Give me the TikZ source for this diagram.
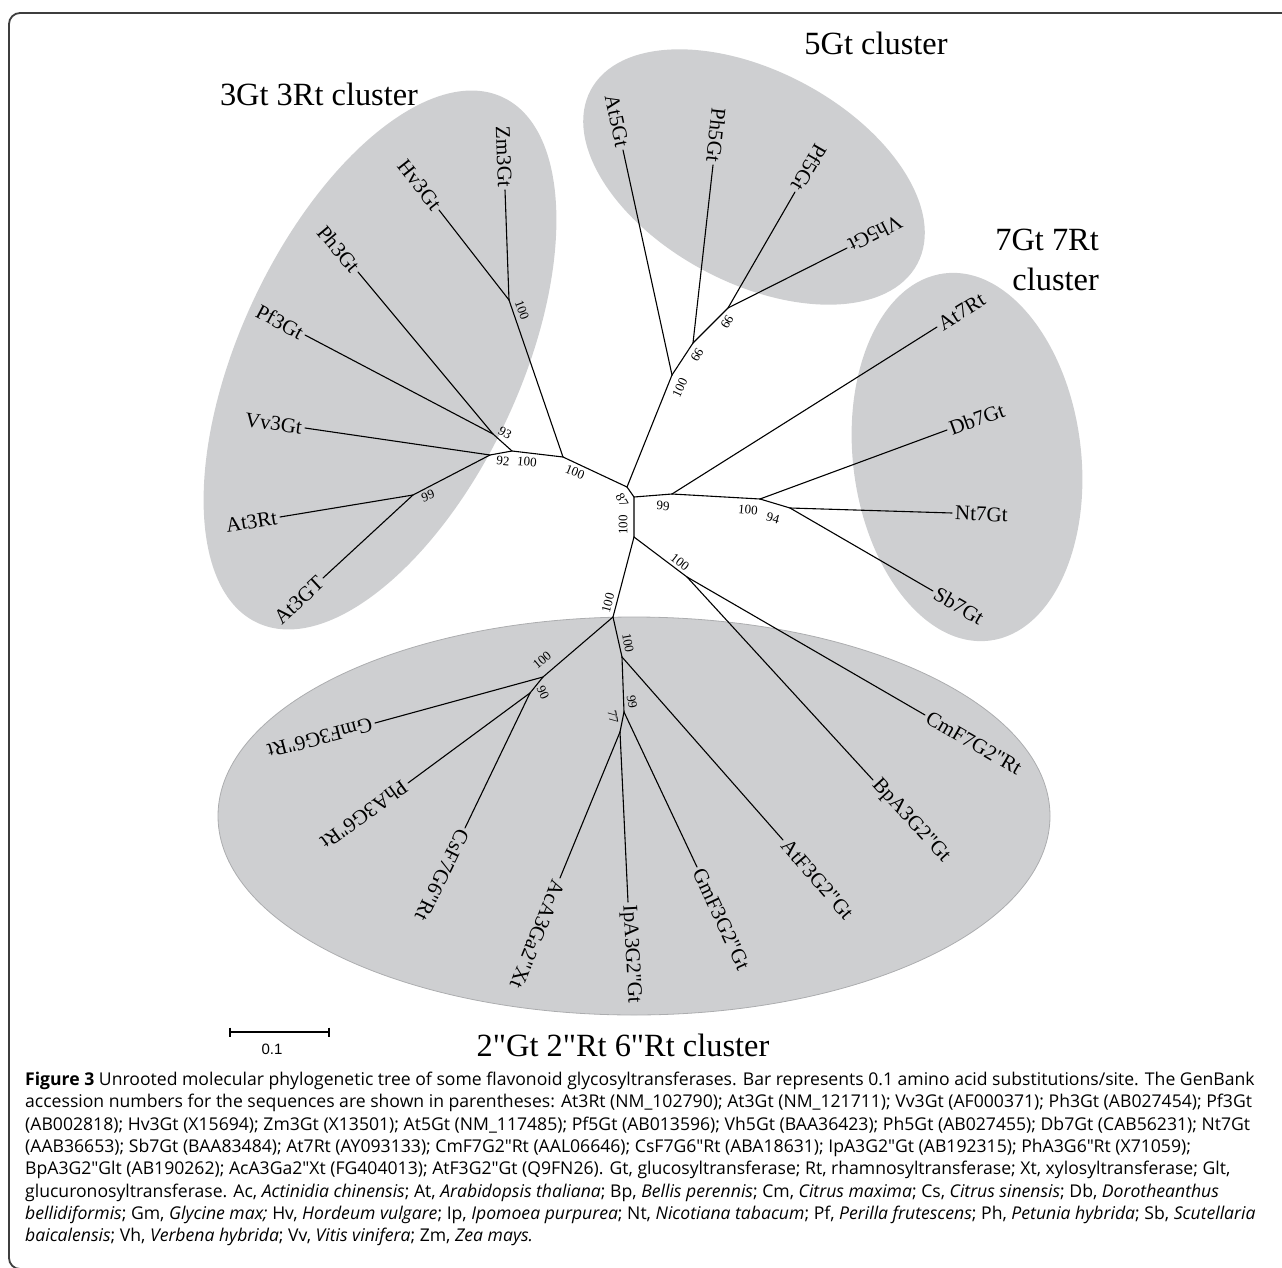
\documentclass[tikz,border=0pt]{standalone}
\usepackage{fontspec}
\setmainfont{Liberation Serif}[Ligatures=TeXOff]
\newfontfamily\capfont{Open Sans}
\newfontfamily\barfont{Liberation Sans}
\usetikzlibrary{positioning}
\definecolor{clustergray}{RGB}{206,207,209}
\definecolor{rimgray}{RGB}{172,173,175}
\definecolor{framegray}{RGB}{62,62,62}

\begin{document}
\begin{tikzpicture}[x=1pt, y=-1pt,
    branchline/.style={line width=1.1pt, line cap=round},
    leafout/.style={anchor=west, inner sep=3pt, font=\fontsize{21}{24}\selectfont},
    leafin/.style={anchor=east, inner sep=3pt, font=\fontsize{21}{24}\selectfont},
    boot/.style={inner sep=0pt, font=\fontsize{13}{15}\selectfont},
    clustertitle/.style={inner sep=0pt, font=\fontsize{32.4}{40}\selectfont},
    captext/.style={anchor=north west, inner sep=0pt, align=left, font=\capfont\fontsize{17.6}{22.3}\selectfont}]
\useasboundingbox (0,0) rectangle (1282,1268);

% Frame
\draw[framegray, line width=1.8pt, rounded corners=11pt] (1295,13) -- (9,13) -- (9,1269) -- (60,1269);

% Cluster ellipses
\fill[clustergray, rotate around={65:(380,360)}] (380,360) ellipse [x radius=290pt, y radius=140pt];
\fill[clustergray, rotate around={-28:(754,177)}] (754,177) ellipse [x radius=185pt, y radius=106pt];
\fill[clustergray, rotate around={7:(967,457)}] (967,457) ellipse [x radius=114pt, y radius=185pt];
\draw[rimgray, fill=clustergray, line width=0.8pt] (634,816) ellipse [x radius=416pt, y radius=199pt];

% Cluster titles
\node[clustertitle] (title3) at (319,94) {3Gt 3Rt cluster};
\node[clustertitle] (title5) at (876,43) {5Gt cluster};
\node[clustertitle, anchor=east, align=right] (title7) at (1099,260) {7Gt 7Rt\\cluster};
\node[clustertitle] (title2) at (623,1045) {2"Gt 2"Rt 6"Rt cluster};

% Inner nodes of the tree
\coordinate (hub) at (627,487);
\coordinate (hub2) at (634,497);
\coordinate (hub3) at (634,537);
\coordinate (s5) at (672,375);
\coordinate (s5ph) at (693,343);
\coordinate (s5pf) at (728,308);
\coordinate (s3) at (563,457);
\coordinate (s3zm) at (509,300);
\coordinate (s3a) at (512,451);
\coordinate (s3ph) at (493,434);
\coordinate (s3vv) at (490,455);
\coordinate (s3at) at (413,495);
\coordinate (s7) at (672,494);
\coordinate (s7db) at (760,499);
\coordinate (s7nt) at (790,508);
\coordinate (s2cm) at (687,577);
\coordinate (s2) at (613,617);
\coordinate (s2gm) at (543,677);
\coordinate (s2ph) at (530,693);
\coordinate (s2at) at (622,657);
\coordinate (s2gmg) at (624,712);
\coordinate (s2ip) at (620,732);

% Leaves, 3Gt 3Rt cluster
\node[leafin, rotate=-88] (Zm3Gt) at (505,190) {Zm3Gt};
\node[leafin, rotate=-52] (Hv3Gt) at (439,210) {Hv3Gt};
\node[leafin, rotate=-50] (Ph3Gt) at (358,272) {Ph3Gt};
\node[leafin, rotate=-28] (Pf3Gt) at (305,335) {Pf3Gt};
\node[leafin, rotate=-8] (Vv3Gt) at (305,428) {Vv3Gt};
\node[leafin, rotate=9] (At3Rt) at (280,517) {At3Rt};
\node[leafin, rotate=43] (At3GT) at (323,578) {At3GT};

% Leaves, 5Gt cluster
\node[leafin, rotate=-78] (At5Gt) at (623,150) {At5Gt};
\node[leafin, rotate=-96] (Ph5Gt) at (713,165) {Ph5Gt};
\node[leafin, rotate=-120] (Pf5Gt) at (795,192) {Pf5Gt};
\node[leafin, rotate=-153] (Vh5Gt) at (847,248) {Vh5Gt};

% Leaves, 7Gt 7Rt cluster
\node[leafout, rotate=32] (At7Rt) at (937,327) {At7Rt};
\node[leafout, rotate=20] (Db7Gt) at (947,430) {Db7Gt};
\node[leafout, rotate=-2] (Nt7Gt) at (952,513) {Nt7Gt};
\node[leafout, rotate=-30] (Sb7Gt) at (933,591) {Sb7Gt};

% Leaves, 2"Gt 2"Rt 6"Rt cluster
\node[leafout, rotate=-30] (CmF7G2Rt) at (925,715) {CmF7G2"Rt};
\node[leafout, rotate=-47.5] (BpA3G2Gt) at (873,780) {BpA3G2"Gt};
\node[leafout, rotate=-49] (AtF3G2Gt) at (783,840) {AtF3G2"Gt};
\node[leafout, rotate=-65] (GmF3G2Gt) at (697,867) {GmF3G2"Gt};
\node[leafout, rotate=-87] (IpA3G2Gt) at (628,902) {IpA3G2"Gt};
\node[leafout, rotate=-112] (AcA3Ga2Xt) at (560,878) {AcA3Ga2"Xt};
\node[leafout, rotate=-116] (CsF7G6Rt) at (465,828) {CsF7G6"Rt};
\node[leafout, rotate=-144] (PhA3G6Rt) at (408,783) {PhA3G6"Rt};
\node[leafout, rotate=-165] (GmF3G6Rt) at (375,723) {GmF3G6"Rt};

% Branches
\draw[branchline] (s3) -- (hub) -- (hub2) -- (hub3);
\draw[branchline] (hub) -- (s5);
\draw[branchline] (hub2) -- (s7);
\draw[branchline] (hub3) -- (s2cm);
\draw[branchline] (hub3) -- (s2);
% 3Gt 3Rt branches
\draw[branchline] (s3) -- (s3zm);
\draw[branchline] (s3zm) -- (Zm3Gt.east);
\draw[branchline] (s3zm) -- (Hv3Gt.east);
\draw[branchline] (s3) -- (s3a);
\draw[branchline] (s3a) -- (s3ph);
\draw[branchline] (s3ph) -- (Ph3Gt.east);
\draw[branchline] (s3ph) -- (Pf3Gt.east);
\draw[branchline] (s3a) -- (s3vv);
\draw[branchline] (s3vv) -- (Vv3Gt.east);
\draw[branchline] (s3vv) -- (s3at);
\draw[branchline] (s3at) -- (At3Rt.east);
\draw[branchline] (s3at) -- (At3GT.east);
% 5Gt branches
\draw[branchline] (s5) -- (At5Gt.east);
\draw[branchline] (s5) -- (s5ph);
\draw[branchline] (s5ph) -- (Ph5Gt.east);
\draw[branchline] (s5ph) -- (s5pf);
\draw[branchline] (s5pf) -- (Pf5Gt.east);
\draw[branchline] (s5pf) -- (Vh5Gt.east);
% 7Gt 7Rt branches
\draw[branchline] (s7) -- (At7Rt.west);
\draw[branchline] (s7) -- (s7db);
\draw[branchline] (s7db) -- (Db7Gt.west);
\draw[branchline] (s7db) -- (s7nt);
\draw[branchline] (s7nt) -- (Nt7Gt.west);
\draw[branchline] (s7nt) -- (Sb7Gt.west);
% 2"Gt 2"Rt 6"Rt branches
\draw[branchline] (s2cm) -- (CmF7G2Rt.west);
\draw[branchline] (s2cm) -- (BpA3G2Gt.west);
\draw[branchline] (s2) -- (s2gm);
\draw[branchline] (s2gm) -- (GmF3G6Rt.west);
\draw[branchline] (s2gm) -- (s2ph);
\draw[branchline] (s2ph) -- (PhA3G6Rt.west);
\draw[branchline] (s2ph) -- (CsF7G6Rt.west);
\draw[branchline] (s2) -- (s2at);
\draw[branchline] (s2at) -- (AtF3G2Gt.west);
\draw[branchline] (s2at) -- (s2gmg);
\draw[branchline] (s2gmg) -- (GmF3G2Gt.west);
\draw[branchline] (s2gmg) -- (s2ip);
\draw[branchline] (s2ip) -- (IpA3G2Gt.west);
\draw[branchline] (s2ip) -- (AcA3Ga2Xt.west);

% Bootstrap values
\node[boot, rotate=-70] (bZm) at (522,310) {100};
\node[boot, rotate=-30] (bPh3) at (505,433) {93};
\node[boot, rotate=-5] (bVv) at (503,461) {92};
\node[boot, rotate=-5] (bA3) at (527,462) {100};
\node[boot, rotate=-22] (bS3) at (575,472) {100};
\node[boot, rotate=20] (bAt3) at (428,496) {99};
\node[boot, rotate=-60] (bHub) at (622,500) {87};
\node[boot, rotate=90] (bHub2) at (623,525) {100};
\node[boot, rotate=65] (bS5) at (680,388) {100};
\node[boot, rotate=-120] (bPh5) at (697,355) {99};
\node[boot, rotate=-120] (bPf5) at (727,322) {99};
\node[boot, rotate=-3] (bS7) at (663,506) {99};
\node[boot, rotate=-5] (bDb7) at (748,510) {100};
\node[boot, rotate=-15] (bNt7) at (773,518) {94};
\node[boot, rotate=-38] (bCm) at (680,562) {100};
\node[boot, rotate=75] (bS2) at (608,603) {100};
\node[boot, rotate=40] (bGm6) at (542,660) {100};
\node[boot, rotate=-65] (bPh6) at (543,693) {90};
\node[boot, rotate=-80] (bAt2) at (628,643) {100};
\node[boot, rotate=-80] (bGm2) at (632,702) {99};
\node[boot, rotate=-80] (bIp2) at (613,717) {77};

% Scale bar
\coordinate (barL) at (230,1032);
\coordinate (barR) at (329,1032);
\draw[line width=2pt] (barL) -- (barR);
\draw[line width=1.6pt] (barL) ++(0,-4.5) -- ++(0,9);
\draw[line width=1.6pt] (barR) ++(0,-4.5) -- ++(0,9);
\node[inner sep=0pt, font=\barfont\fontsize{15}{17}\selectfont] (barlabel) at (272,1049) {0.1};

% Caption
\node[captext] (caption) at (25,1072) {\textbf{Figure 3} Unrooted molecular phylogenetic tree of some flavonoid glycosyltransferases. Bar represents 0.1 amino acid substitutions/site. The GenBank\\
accession numbers for the sequences are shown in parentheses: At3Rt (NM\_102790); At3Gt (NM\_121711); Vv3Gt (AF000371); Ph3Gt (AB027454); Pf3Gt\\
(AB002818); Hv3Gt (X15694); Zm3Gt (X13501); At5Gt (NM\_117485); Pf5Gt (AB013596); Vh5Gt (BAA36423); Ph5Gt (AB027455); Db7Gt (CAB56231); Nt7Gt\\
(AAB36653); Sb7Gt (BAA83484); At7Rt (AY093133); CmF7G2″Rt (AAL06646); CsF7G6″Rt (ABA18631); IpA3G2″Gt (AB192315); PhA3G6″Rt (X71059);\\
BpA3G2″Glt (AB190262); AcA3Ga2″Xt (FG404013); AtF3G2″Gt (Q9FN26). Gt, glucosyltransferase; Rt, rhamnosyltransferase; Xt, xylosyltransferase; Glt,\\
glucuronosyltransferase. Ac, \textit{Actinidia chinensis}; At, \textit{Arabidopsis thaliana}; Bp, \textit{Bellis perennis}; Cm, \textit{Citrus maxima}; Cs, \textit{Citrus sinensis}; Db, \textit{Dorotheanthus}\\
\textit{bellidiformis}; Gm, \textit{Glycine max;} Hv, \textit{Hordeum vulgare}; Ip, \textit{Ipomoea purpurea}; Nt, \textit{Nicotiana tabacum}; Pf, \textit{Perilla frutescens}; Ph, \textit{Petunia hybrida}; Sb, \textit{Scutellaria}\\
\textit{baicalensis}; Vh, \textit{Verbena hybrida}; Vv, \textit{Vitis vinifera}; Zm, \textit{Zea mays.}};
\end{tikzpicture}
\end{document}
